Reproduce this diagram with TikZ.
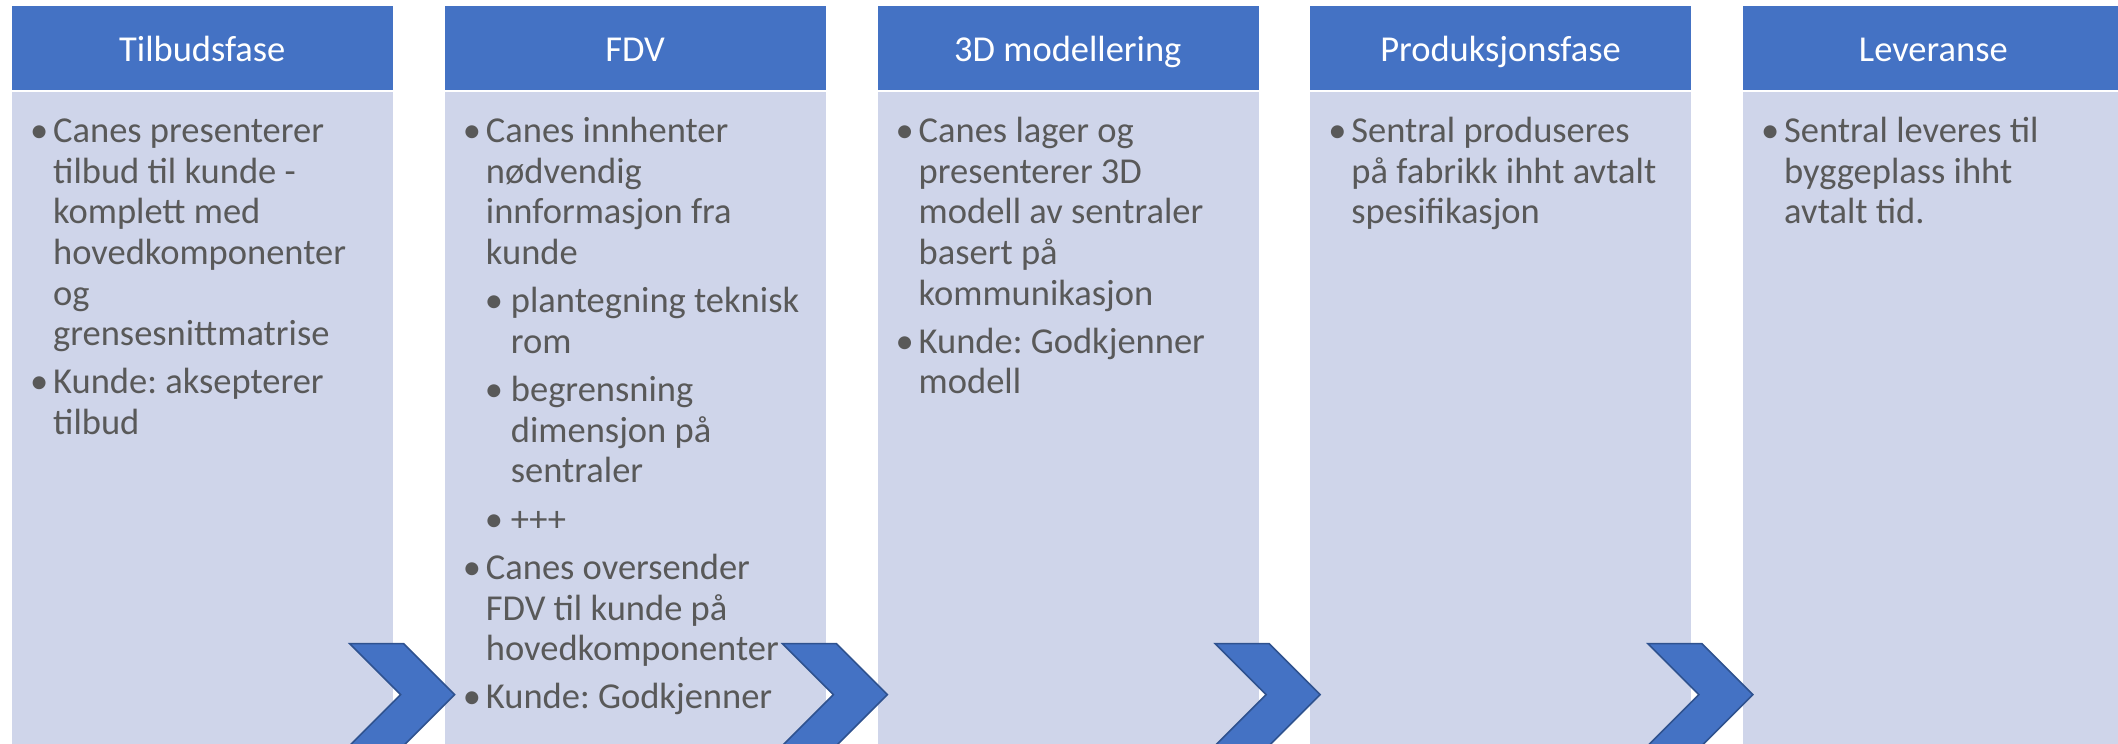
\documentclass[tikz,border=0pt]{standalone}
\usepackage{fontspec}
\setmainfont{Carlito}
\usetikzlibrary{calc}

\definecolor{hdblue}{HTML}{4472C4}
\definecolor{bdblue}{HTML}{CFD5EA}
\definecolor{chevline}{HTML}{2F528F}
\definecolor{txtgray}{HTML}{595959}

\frenchspacing
\newcommand{\lvone}{\par\leftskip=42pt\noindent\llap{\makebox[23pt][l]{•}}}
\newcommand{\lvtwo}{\par\leftskip=67pt\noindent\llap{\makebox[26pt][l]{•}}}
\newcommand{\phasetext}[1]{\parbox[t]{400pt}{\fontsize{36.5}{40.6}\selectfont\setlength{\parskip}{7.7pt}#1}}

\begin{document}
\begin{tikzpicture}[x=1pt,y=-1pt,
	hd/.style={fill=hdblue,draw=white,line width=0.6pt,minimum width=382pt,minimum height=85pt,inner sep=0pt,anchor=north west},
	bd/.style={fill=bdblue,draw=white,line width=0.6pt,minimum width=382pt,minimum height=660pt,inner sep=0pt,anchor=north west},
	ttl/.style={text=white,anchor=base,inner sep=0pt,font=\fontsize{36.5}{40}\selectfont},
	txt/.style={text=txtgray,anchor=base west,inner sep=0pt},
	chev/.style={fill=hdblue,draw=chevline,line width=1.5pt}]
	\useasboundingbox (0,0) rectangle (2118,744);
	\foreach \x/\t in {1/Tilbudsfase,2/FDV,3/3D modellering,4/Produksjonsfase,5/Leveranse}{
		\node[hd] at ({11+(\x-1)*432.75},5) (h\x) {};
		\node[bd] at (h\x.south west) (b\x) {};
		\node[ttl] at ($(h\x.north)+(0,56)$) (t\x) {\t};
	}
	\node[txt] at ($(b1.north west)+(0,52)$) (p1) {\phasetext{%
		\lvone Canes presenterer\newline tilbud til kunde -\newline komplett med\newline hovedkomponenter\newline og\newline grensesnittmatrise
		\lvone Kunde: aksepterer\newline tilbud}};
	\node[txt] at ($(b2.north west)+(0,52)$) (p2) {\phasetext{%
		\lvone Canes innhenter\newline nødvendig\newline innformasjon fra\newline kunde
		\lvtwo plantegning teknisk\newline rom
		\lvtwo begrensning\newline dimensjon på\newline sentraler
		\lvtwo +++
		\lvone Canes oversender\newline FDV til kunde på\newline hovedkomponenter
		\lvone Kunde: Godkjenner}};
	\node[txt] at ($(b3.north west)+(0,52)$) (p3) {\phasetext{%
		\lvone Canes lager og\newline presenterer 3D\newline modell av sentraler\newline basert på\newline kommunikasjon
		\lvone Kunde: Godkjenner\newline modell}};
	\node[txt] at ($(b4.north west)+(0,52)$) (p4) {\phasetext{%
		\lvone Sentral produseres\newline på fabrikk ihht avtalt\newline spesifikasjon}};
	\node[txt] at ($(b5.north west)+(0,52)$) (p5) {\phasetext{%
		\lvone Sentral leveres til\newline byggeplass ihht\newline avtalt tid.}};
	\foreach \x in {1,...,4}{
		\draw[chev] ($(b\x.north east)+(-44,553)$) -- ++(54,0) -- ++(51,51) -- ++(-51,51) -- ++(-54,0) -- ++(51,-51) -- cycle;
	}
\end{tikzpicture}
\end{document}
